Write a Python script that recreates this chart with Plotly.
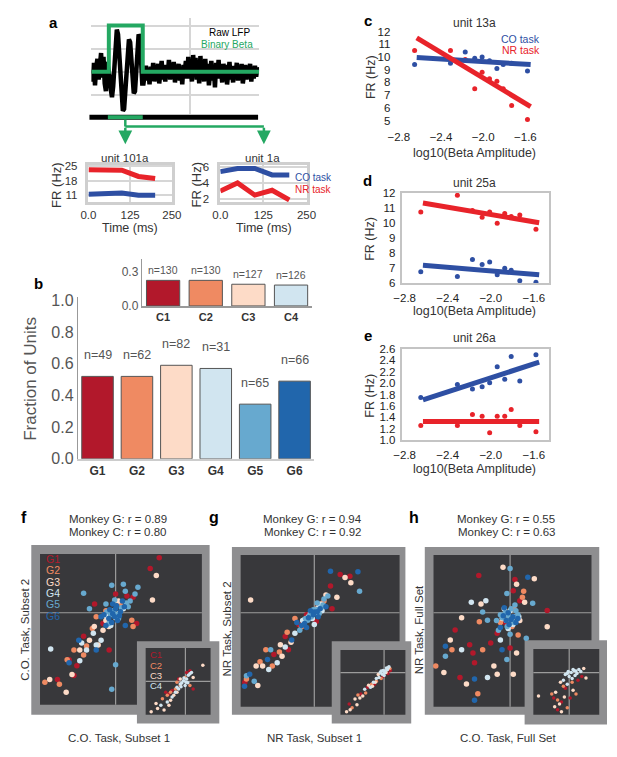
import plotly.graph_objects as go

W, H = 617, 757
FONT = "Liberation Sans, Arial, sans-serif"

RED = "#e8232a"
BLUE = "#2e4fa3"
GREEN = "#24a862"
FRAME = "#8e8e90"
DARK = "#38383b"
CROSS = "#9c9c9c"
GCOL = {"G1": "#b2182b", "G2": "#ef8a62", "G3": "#fddbc7",
        "G4": "#d1e5f0", "G5": "#67a9cf", "G6": "#2166ac"}
CCOL = {"C1": "#b2182b", "C2": "#ef8a62", "C3": "#fddbc7", "C4": "#d1e5f0"}

# ---- panel a : raw LFP with binary beta ----
lfp = [2, -10, 9, -14, 5, 13, -8, 3, 19, -6, 15, -12, -20, 10, 4,
       -5, -18, -26, -15, 10, 30, 43, 38, 15, -10, -30, -40, -38, -20,
       5, 22, 33, 30, 12, -8, -22, -20, 0, 25, 38, 35, 10, -12,
       -12, -3, 6, -9, 2, -13, 5, -7, 9, -10, 1, -5, 8, -12, 4, 11,
       -8, 0, -10, 7, -4, 12, -8, 3, -6, 10, -11, 5, -2, 8,
       -9, 4, -13, 7, -1, 11, -7, 15, -4, 2, -10, 17, -3, 14, -8, 6,
       -12, 16, -5, 4, -10, 13, -6, 8, -14, 3, 11, -9, 5, -16,
       9, -4, 12, -7, 2, -11, 8, -5, 7, -13, 4, 10, -8, 1, -11, 6,
       -3, 9, -9, 5, -6, 8, -12, 2, 7, -8, 5, -4, 8, -10,
       3, -7, 6, -5, 4, 0]
beta_t = [0, 14.4, 14.4, 42.4, 42.4, 141.6]
beta_on = [0, 0, 47, 47, 0, 0]

time_ms = [0, 50, 100, 150, 200]
u101_co = [11.5, 11.8, 12.0, 11.0, 11.0]
u101_nr = [23.2, 23.2, 23.0, 20.0, 19.0]
u1_co = [5.4, 5.8, 5.8, 5.0, 5.0]
u1_nr = [3.0, 4.0, 2.5, 3.1, 1.9]

# ---- panel b ----
g_labels = ["G1", "G2", "G3", "G4", "G5", "G6"]
g_frac = [0.52, 0.52, 0.59, 0.57, 0.345, 0.49]
g_n = [49, 62, 82, 31, 65, 66]
c_labels = ["C1", "C2", "C3", "C4"]
c_frac = [0.223, 0.223, 0.189, 0.182]
c_n = [130, 130, 127, 126]

# ---- panels c-e ----
beta_bins = [-2.65, -2.31, -2.17, -2.08, -2.01, -1.94, -1.87, -1.81, -1.73, -1.58]
fit_x = [-2.63, -1.55]
u13_co = [9.4, 9.5, 10.4, 9.9, 10.0, 9.7, 9.1, 9.4, 9.5, 8.9]
u13_nr = [10.5, 10.5, 9.8, 7.5, 8.8, 8.3, 8.1, 7.5, 6.2, 5.1]
u13_co_fit = [9.95, 9.4]
u13_nr_fit = [11.5, 6.1]
u25_co = [6.78, 6.46, 7.59, 7.26, 7.43, 6.57, 7.0, 6.87, 6.17, 6.07]
u25_nr = [10.75, 11.87, 10.85, 10.4, 10.75, 10.0, 10.65, 10.45, 10.55, 9.6]
u25_co_fit = [7.2, 6.57]
u25_nr_fit = [11.35, 10.04]
u26_co = [1.75, 1.98, 1.90, 1.94, 2.01, 2.29, 2.07, 2.47, 2.04, 2.5]
u26_nr = [1.26, 1.26, 1.45, 1.42, 1.13, 1.42, 1.42, 1.54, 1.26, 1.15]
u26_co_fit = [1.71, 2.37]
u26_nr_fit = [1.33, 1.33]

# ---- panels f-h : tuning similarity (arbitrary units) ----
f_main = {
    "G1": [(35.7, 45), (45, 56), (18, 15.7), (11.7, 17), (21.7, -11), (-21.7, 9), (-33, -24),
           (-40, -54), (-43, -64), (-48, -48), (-6.7, -38), (-13, -11), (-60, -68), (0, 19)],
    "G2": [(-80, -80), (-73, -71), (-58, -73), (-50, -48), (-33, -43), (-24, -16), (-10, 2),
           (-20, -4), (16.7, -7.7), (-30, -34), (18, -14), (5, 9), (-43, -38)],
    "G3": [(42, 38), (38, 13), (-51, -81), (-68, -68), (-37, -38), (-18, -33), (-22, -14),
           (-10, -8), (-13, -18), (-27, -28), (3, 12), (-45, -63), (-7, -14), (-4, 2), (1, -3)],
    "G4": [(-67, -37), (-37, -49), (-15, -28), (-20, -33), (-5, -13), (-10, -3), (-30, -38),
           (3, -1), (-23, -21), (-35, -31), (8, 4), (-3, 0), (0, -5)],
    "G5": [(-4, 28), (8, 29), (-33, 20), (0, -53), (-4, -78), (-27, 4), (-10, 9), (-2, 2),
           (3, -6), (-7, -11), (13, 6), (10, 22), (20, 19), (23, 26), (-5, -2), (6, 5), (2, -2),
           (-9, 1), (11, 10), (-1, 13), (15, 12)],
    "G6": [(-80, -61), (-3, -1), (0, 4), (5, 1), (-7, -6), (2, -8), (-10, -13), (7, 12),
           (-3, 9), (-15, -4), (-48, -51), (-20, -38), (10, -13), (-38, -28), (-6, 3), (4, -3),
           (-1, -4), (9, 6), (-12, -2), (1, 7), (-4, -10)],
}
f_inset = {
    "C1": [(-13.7, -9.3), (4.7, 10.7), (8, -7.7), (-17, -12.7), (1.3, 9), (-7, 2.3), (-20.3, -11)],
    "C2": [(-15.3, -11), (-10.3, -7.7), (-5.3, -4.3), (-18.7, -14.3), (-0.3, 4), (4.7, -4.3),
           (-23.7, -17.7), (-8.7, -1)],
    "C3": [(18, 16.3), (-28.7, -27.7), (-35.3, -31), (-22, -29.3), (-15.3, -19.3), (-12, -14.3),
           (8, 4), (-8.7, -11), (-30.3, -22.7), (-5.3, 2.3), (-17, -24.3)],
    "C4": [(-5.3, -2.7), (-2, 0.7), (1.3, 2.3), (-0.3, -4.3), (-7, -7.7), (3, 6.3), (-3.7, -1.7),
           (-10.3, -11), (4.7, 7.7), (-13.7, -16), (-8.7, -6), (0.7, -1), (-18.7, -21),
           (-25.3, -24.3), (6.3, 9), (-1.5, 3.5), (2.5, -1.5), (-4.5, -5.5)],
}
g_main = {
    "G1": [(36.7, 37.3), (16.7, 27.3), (26.7, 39), (18.3, 4), (-26.7, -37.7), (-71.7, -71),
           (-30, -24.3), (-41.7, -42.7), (-93, -73), (-8, -2), (2, -9), (-16, -12)],
    "G2": [(-13.3, -14.3), (-43.3, -54.3), (-70, -67.7), (-50, -37.7), (10, 12), (-20, -6),
           (-36, -40), (4, 6), (-56, -50), (-28, -20)],
    "G3": [(-65.7, 13), (31.7, 36), (37.7, 30.7), (23.3, 15.7), (6.7, 9), (-33.3, -44.3),
           (-53.3, -54.3), (-60, -54.3), (-58.3, -74.3), (-35, -32.7), (-6, -4), (-24, -30),
           (12, 18), (-2, 2), (-10, -7)],
    "G4": [(3.3, 4), (-38.3, -51), (-20, -21), (-2, -6), (-12, -8), (8, 2), (-30, -35),
           (-47, -58), (0, -12), (1, 0), (-4, -1), (6, 8)],
    "G5": [(46.7, 22), (-3.3, -4.3), (-6.7, -7.7), (5, -1), (-70, -64.3), (-45, -37.7), (-1, 3),
           (9, 8), (-15, -18), (3, 10), (-62, -70), (-2, -1), (2, 3), (7, 5), (-5, -3), (-9, -6),
           (10, 14), (14, 17)],
    "G6": [(45, 41.7), (16.7, 42.3), (0, 0.7), (-10, -11), (-48.3, -47.7), (-66.7, -62.7),
           (-76.7, -99.3), (-23.3, -27.7), (-4, 2), (4, -4), (-8, -15), (12, 6), (-18, -10),
           (-72, -75), (-1, -2), (6, 4), (-6, -5), (3, 1), (-13, -13)],
}
g_inset = {
    "C1": [(6.5, 2), (-1, -4), (-10, -12), (-17, -15), (-24, -22), (-36, -32), (4, -1)],
    "C2": [(6, 4), (3, 2.5), (-3, -6), (-13, -12), (-19, -21), (-27, -23), (-33, -36), (-8, -9)],
    "C3": [(4.7, 5), (-6, -2), (-9, -10), (-16, -13), (-25, -26), (-30, -27), (-35, -38),
           (-38.7, -40), (-22, -24), (-12, -14), (2, 0), (-28, -33)],
    "C4": [(-2, -1.7), (1.3, 1.7), (-5.3, -5), (3.5, 3), (-8, -6), (0, -3), (-4, 0), (-11, -10),
           (5, 6), (-14, -15), (-1, 2), (-20, -17), (2.5, 4.5), (-3, 1.5), (0.5, -0.5)],
}
h_main = {
    "G1": [(-32.3, 38), (5, 34), (3.3, 22.3), (10, 12.3), (38.3, 2.3), (-56.7, -17.7),
           (-41.7, -32.7), (-38.3, -41), (-20, -31), (-36.7, -51), (-51.7, -66), (0, -36),
           (-13.3, -21), (-5, -10)],
    "G2": [(12.7, 15.7), (-31.7, -9.3), (-60, -37.7), (-76.7, -54.3), (-28.3, -37.7),
           (-33.3, -82.7), (8.3, -22.7), (-4, -2), (2, -14), (14, 22), (4, 4), (-10, -10)],
    "G3": [(-7.3, 46.3), (25, 34.7), (6.7, 29), (15, 10.7), (38.3, -14.3), (-30, 9), (-50, -5),
           (-61.7, -27.7), (-68.3, -61), (-45, -72.7), (-13.3, -62.7), (-16.7, -54.3),
           (3.3, -62.7), (6.7, -41), (-8, -6), (10, -8)],
    "G4": [(-40, 10.7), (-25, 12.3), (-50, -37.7), (-23.3, -66), (-10, -27.7), (-6, 4), (4, -4),
           (-2, -16), (0, 2), (-4, -8), (3, -12), (9, -4)],
    "G5": [(0, 45), (-3.3, 19.7), (23.3, 9.7), (-28.3, 0.7), (-23.3, -7.7), (-66.7, -44.3),
           (-3.3, -47.7), (16.7, -26), (-2, -3), (-8, -5), (4, -10), (-14, -8), (6, 2), (0, -22),
           (-5, 0), (2, -6), (-10, -2), (8, -2), (-3, -14), (5, 8), (-12, -18), (1, 4)],
    "G6": [(18.3, 36.3), (-66.7, -34.3), (-36.7, -67.7), (-36.7, -89.3), (-8.3, -37.7), (-4, -8),
           (3, -4), (-10, -15), (8, -6), (-6, 5), (-1, -12), (-2, 0), (6, -10), (-7, -3), (1, -7)],
}
h_inset = {
    "C1": [(9, -8), (-4, -16), (-16, -26), (-8, -30), (1, -26), (-12, -38), (13, -4)],
    "C2": [(-6, -14), (-12, -28), (-2, -36), (-18, -22), (3, -10), (7, -22), (-9, -46)],
    "C3": [(15, 4), (-9, -10), (-14, -20), (-31.7, -24), (-10, -32), (-8, -40), (-3, -45),
           (-15, -35), (-5, -25), (4, -18), (17.3, -5.7)],
    "C4": [(2, 0), (5, 2), (-1, 1), (8, -1), (0, -4), (-4, -2), (10, 3), (3, -6), (-6, -8),
           (-2, -12), (6, -3), (12, 1), (4, 3), (7, 1.5), (-2, -1)],
}

fig = go.Figure()
layout = {}
shapes = []
ann = []


def add_axes(n, x0, x1, y0, y1, xr, yr, xopts=None, yopts=None):
    s = "" if n == 1 else str(n)
    base = dict(showgrid=False, zeroline=False, showticklabels=False, ticks="",
                showline=False, fixedrange=True)
    xa = dict(base, domain=[x0 / W, x1 / W], range=xr, anchor="y" + s)
    ya = dict(base, domain=[1 - y1 / H, 1 - y0 / H], range=yr, anchor="x" + s)
    xa.update(xopts or {})
    ya.update(yopts or {})
    layout["xaxis" + s] = xa
    layout["yaxis" + s] = ya
    return "x" + s, "y" + s


def text(x, y, s, size=11, color="#333333", bold=False, angle=0, xanchor="center"):
    ann.append(dict(x=x / W, y=1 - y / H, xref="paper", yref="paper",
                    text=f"<b>{s}</b>" if bold else s, showarrow=False,
                    font=dict(size=size, color=color, family=FONT),
                    textangle=angle, xanchor=xanchor, yanchor="middle"))


def rect(x0, y0, x1, y1, color):
    shapes.append(dict(type="rect", xref="paper", yref="paper", x0=x0 / W, x1=x1 / W,
                       y0=1 - y1 / H, y1=1 - y0 / H, fillcolor=color, line=dict(width=0),
                       layer="below"))


def hline(x0, x1, y, color, width=1):
    shapes.append(dict(type="line", xref="paper", yref="paper", x0=x0 / W, x1=x1 / W,
                       y0=1 - y / H, y1=1 - y / H, line=dict(color=color, width=width),
                       layer="below"))


def vline(x, y0, y1, color, width=1):
    shapes.append(dict(type="line", xref="paper", yref="paper", x0=x / W, x1=x / W,
                       y0=1 - y0 / H, y1=1 - y1 / H, line=dict(color=color, width=width),
                       layer="below"))


tickfont = dict(size=11.5, color="#333333", family=FONT)

# ================= panel a =================
xa, ya = add_axes(1, 85, 258, 12, 110, [0, 138.4], [-43, 55],
                  dict(showgrid=True, gridcolor="#d6d6d6", gridwidth=2,
                       tickvals=[0, 81.6, 138.4]),
                  dict(showgrid=True, gridcolor="#d6d6d6", gridwidth=2,
                       tickvals=[55, 47, 23, 0, -24]))
fig.add_trace(go.Scatter(x=list(range(len(lfp))), y=lfp, mode="lines",
                         line=dict(color="black", width=4.5), xaxis=xa, yaxis=ya))
fig.add_trace(go.Scatter(x=beta_t, y=beta_on, mode="lines", cliponaxis=False,
                         line=dict(color=GREEN, width=4), xaxis=xa, yaxis=ya))
text(228, 27, "Raw LFP", 10, "black")
text(225, 39, "Binary Beta", 10, GREEN)
rect(83, 111, 257, 116, "black")
rect(102, 111.5, 138, 115.5, GREEN)
vline(120, 116, 123, GREEN, 2.5)
hline(120, 263, 123, GREEN, 2.5)
for ax_x in (120, 263):
    ann.append(dict(x=ax_x / W, y=1 - 141 / H, xref="paper", yref="paper", text="",
                    showarrow=True, ax=0, ay=-18, arrowhead=2, arrowsize=1.1,
                    arrowwidth=2.5, arrowcolor=GREEN))
text(46, 17, "a", 15, "black", bold=True)

small_x = dict(showline=True, mirror=True, linecolor="#cfcfcf", linewidth=2.5,
               showgrid=True, gridcolor="#d6d6d6", gridwidth=2,
               tickvals=[0, 125, 250], ticktext=["0.0", "125", "250"],
               showticklabels=True, tickfont=tickfont)
small_y = dict(showline=True, mirror=True, linecolor="#cfcfcf", linewidth=2.5,
               showgrid=True, gridcolor="#d6d6d6", gridwidth=2, showticklabels=True,
               tickfont=tickfont, ticks="outside", ticklen=6, tickcolor="rgba(0,0,0,0)")

xa, ya = add_axes(2, 82, 168, 162, 200, [0, 250], [7.7, 25.6], small_x,
                  dict(small_y, tickvals=[11, 18, 25]))
fig.add_trace(go.Scatter(x=time_ms, y=u101_nr, mode="lines", line=dict(color=RED, width=5),
                         xaxis=xa, yaxis=ya))
fig.add_trace(go.Scatter(x=time_ms, y=u101_co, mode="lines", line=dict(color=BLUE, width=5),
                         xaxis=xa, yaxis=ya))
xa, ya = add_axes(3, 218, 307, 162, 200, [0, 250], [1.64, 6.25], small_x,
                  dict(small_y, tickvals=[2, 4, 6]))
fig.add_trace(go.Scatter(x=time_ms, y=u1_co, mode="lines", line=dict(color=BLUE, width=5),
                         xaxis=xa, yaxis=ya))
fig.add_trace(go.Scatter(x=time_ms, y=u1_nr, mode="lines", line=dict(color=RED, width=5),
                         xaxis=xa, yaxis=ya))
text(120, 155, "unit 101a", 11.5)
text(262, 155, "unit 1a", 11.5)
text(49, 182, "FR (Hz)", 13, angle=-90)
text(193, 182, "FR (Hz)", 13, angle=-90)
text(125, 226, "Time (ms)", 12.5)
text(263, 226, "Time (ms)", 12.5)
text(293, 175, "CO task", 10, BLUE, xanchor="left")
text(293, 187, "NR task", 10, RED, xanchor="left")

# ================= panel b =================
xa, ya = add_axes(4, 71, 315, 297, 462, [-0.5, 5.5], [0, 1.02],
                  dict(type="category", showticklabels=True, tickvals=g_labels,
                       ticktext=[f"<b>{g}</b>" for g in g_labels],
                       tickfont=dict(size=12, color="#333333", family=FONT),
                       showline=True, linecolor="#cccccc", linewidth=2),
                  dict(showticklabels=True, tickvals=[0, 0.2, 0.4, 0.6, 0.8, 1.0],
                       ticktext=["0.0", "0.2", "0.4", "0.6", "0.8", "1.0"],
                       tickfont=dict(size=16, color="#555555", family=FONT),
                       showline=True, linecolor="#999999", linewidth=1))
fig.add_trace(go.Bar(x=g_labels, y=g_frac, width=0.8,
                     marker=dict(color=[GCOL[g] for g in g_labels],
                                 line=dict(color="#555555", width=1)),
                     xaxis=xa, yaxis=ya))
for g, v, n in zip(g_labels, g_frac, g_n):
    ann.append(dict(x=g, y=v, xref=xa, yref=ya, text=f"n={n}", showarrow=False,
                    yshift=21, font=dict(size=12.5, color="#555555", family=FONT)))

xa, ya = add_axes(5, 137, 313, 258, 306, [-0.5, 3.5], [0, 0.41],
                  dict(type="category", showticklabels=True, tickvals=c_labels,
                       ticktext=[f"<b>{c}</b>" for c in c_labels],
                       tickfont=dict(size=11, color="#333333", family=FONT),
                       showline=True, linecolor="#999999", linewidth=1.5),
                  dict(showticklabels=True, tickvals=[0, 0.3], ticktext=["0.0", "0.3"],
                       tickfont=dict(size=12, color="#555555", family=FONT),
                       showline=True, linecolor="#999999", linewidth=1))
fig.add_trace(go.Bar(x=c_labels, y=c_frac, width=0.78,
                     marker=dict(color=[CCOL[c] for c in c_labels],
                                 line=dict(color="#555555", width=1)),
                     xaxis=xa, yaxis=ya))
for c, v, n in zip(c_labels, c_frac, c_n):
    ann.append(dict(x=c, y=v, xref=xa, yref=ya, text=f"n={n}", showarrow=False,
                    yshift=10, font=dict(size=10.5, color="#555555", family=FONT)))
text(30, 283, "b", 15, "black", bold=True)
text(22, 380, "Fraction of Units", 17, "#555555", angle=-90)

# ================= panels c-e =================
beta_ticks = dict(showticklabels=True, tickvals=[-2.8, -2.4, -2.0, -1.6],
                  ticktext=["\u22122.8", "\u22122.4", "\u22122.0", "\u22121.6"],
                  tickfont=dict(size=11.5, color="#222222", family=FONT),
                  ticks="outside", ticklen=3, tickcolor="rgba(0,0,0,0)")
fr_ticks = dict(showticklabels=True, tickfont=dict(size=11.5, color="#222222", family=FONT),
                ticks="outside", ticklen=3, tickcolor="rgba(0,0,0,0)")
box = dict(showline=True, mirror=True, linecolor="#c4c4c4", linewidth=1.5)

panels = [
    (6, 400, 548, 23.4, 119.6, [4.8, 12.2], dict(fr_ticks, tickvals=list(range(5, 13))), {},
     u13_co, u13_nr, u13_co_fit, u13_nr_fit),
    (7, 406, 557, 191, 283, [6, 12], dict(fr_ticks, tickvals=list(range(6, 13)), **box), box,
     u25_co, u25_nr, u25_co_fit, u25_nr_fit),
    (8, 406, 557, 350, 443, [1.0, 2.6],
     dict(fr_ticks, tickvals=[1.0, 1.2, 1.4, 1.6, 1.8, 2.0, 2.2, 2.4, 2.6], tickformat=".1f", **box),
     box, u26_co, u26_nr, u26_co_fit, u26_nr_fit),
]
for n, x0, x1, top, bot, yr, yopt, xbox, co, nr, co_fit, nr_fit in panels:
    xa, ya = add_axes(n, x0, x1, top, bot, [-2.82, -1.46], yr, dict(beta_ticks, **xbox), yopt)
    fig.add_trace(go.Scatter(x=beta_bins, y=co, mode="markers", cliponaxis=False,
                             marker=dict(color=BLUE, size=5), xaxis=xa, yaxis=ya))
    fig.add_trace(go.Scatter(x=beta_bins, y=nr, mode="markers", cliponaxis=False,
                             marker=dict(color=RED, size=5), xaxis=xa, yaxis=ya))
    fig.add_trace(go.Scatter(x=fit_x, y=co_fit, mode="lines", line=dict(color=BLUE, width=5),
                             xaxis=xa, yaxis=ya))
    fig.add_trace(go.Scatter(x=fit_x, y=nr_fit, mode="lines", line=dict(color=RED, width=5),
                             xaxis=xa, yaxis=ya))

for lab, ly, title, ty, fry, xty in [("c", 15, "unit 13a", 17, 73, 150),
                                     ("d", 178, "unit 25a", 181, 238, 311),
                                     ("e", 336, "unit 26a", 339, 398, 472)]:
    text(370, ly, lab, 15, "black", bold=True)
    text(480, ty, title, 12, "#333333")
    text(373, fry, "FR (Hz)", 12.5, "#333333", angle=-90)
    text(480, xty, "log10(Beta Amplitude)", 12.5, "#333333")
text(550, 34, "CO task", 10.5, BLUE, xanchor="right")
text(550, 45, "NR task", 10.5, RED, xanchor="right")

# ================= panels f-h =================
# frame geometry in px: outer frame, inner dark area, crosshair
scatter_panels = [
    dict(main=f_main, inset=f_inset,
         outer=(23, 550, 207, 723), inner=(32, 559, 199, 713), cross=(110, 619),
         i_outer=(132, 648, 217, 732), i_inner=(141, 655, 208, 723), i_cross=(182, 689)),
    dict(main=g_main, inset=g_inset,
         outer=(230, 552, 409, 723), inner=(239, 560, 403, 715), cross=(315, 619),
         i_outer=(333, 648, 415, 732), i_inner=(342, 657, 409, 723), i_cross=(387, 680)),
    dict(main=h_main, inset=h_inset,
         outer=(429, 552, 609, 723), inner=(438, 560, 601, 715), cross=(517, 619),
         i_outer=(532, 647, 617, 733), i_inner=(541, 656, 609, 723), i_cross=(578, 680)),
]
n = 9
for p in scatter_panels:
    for key, ckey, okey, cols, msize in [("main", "cross", "outer", GCOL, 5.5),
                                          ("inset", "i_cross", "i_outer", CCOL, 3.5)]:
        ox0, oy0, ox1, oy1 = p[okey]
        ix0, iy0, ix1, iy1 = p["inner" if key == "main" else "i_inner"]
        cx, cy = p[ckey]
        rect(ox0, oy0, ox1, oy1, FRAME)
        rect(ix0, iy0, ix1, iy1, DARK)
        vline(cx, iy0, iy1, CROSS, 1.2)
        hline(ix0, ix1, cy, CROSS, 1.2)
        xa, ya = add_axes(n, ix0, ix1, iy0, iy1, [ix0 - cx, ix1 - cx], [cy - iy1, cy - iy0])
        n += 1
        for grp, pts in p[key].items():
            fig.add_trace(go.Scatter(x=[q[0] for q in pts], y=[q[1] for q in pts],
                                     mode="markers", cliponaxis=False,
                                     marker=dict(color=cols[grp], size=msize),
                                     xaxis=xa, yaxis=ya))

for i, g in enumerate(g_labels):
    text(36, 564 + i * 11.6, g, 10.5, GCOL[g], xanchor="left")
for i, c in enumerate(c_labels):
    text(143, 662 + i * 10.4, c, 9.5, CCOL[c], xanchor="left")

titles = [("f", 15, 112, "0.89", "0.80", "C.O. Task, Subset 1", 17, "C.O. Task, Subset 2"),
          ("g", 212, 313, "0.94", "0.92", "NR Task, Subset 1", 225, "NR Task, Subset 2"),
          ("h", 418, 513, "0.55", "0.63", "C.O. Task, Full Set", 423, "NR Task, Full Set")]
for lab, lx, tx, rg, rc, xt, yx, yt in titles:
    text(lx, 522, lab, 16, "black", bold=True)
    text(tx, 523, f"Monkey G: r = {rg}", 11.5)
    text(tx, 537, f"Monkey C: r = {rc}", 11.5)
    text(tx + 2, 747, xt, 11.5)
    text(yx, 636, yt, 11.5, angle=-90)

fig.update_layout(width=W, height=H, margin=dict(l=0, r=0, t=0, b=0),
                  paper_bgcolor="white", plot_bgcolor="rgba(0,0,0,0)",
                  showlegend=False, shapes=shapes, annotations=ann,
                  font=dict(family=FONT), bargap=0.2, **layout)
# the page's default body margin would push the fixed-size figure off the window
fig.write_html("out.html", config={"displayModeBar": False},
               post_script="document.body.style.margin='0';document.body.style.overflow='hidden';")
